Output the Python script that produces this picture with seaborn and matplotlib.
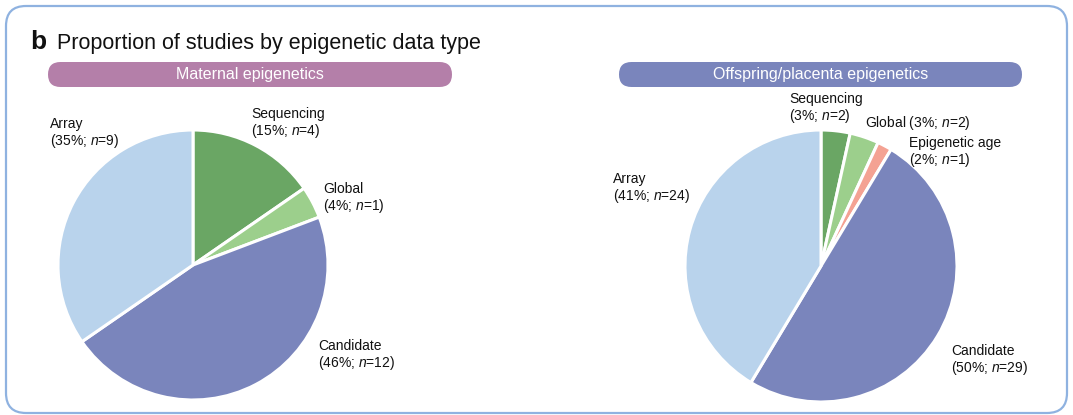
import matplotlib
matplotlib.use("Agg")
import matplotlib.pyplot as plt
from matplotlib.patches import FancyBboxPatch
import seaborn as sns

sns.set_theme(style="white")
plt.rcParams['font.family'] = ['Liberation Sans', 'DejaVu Sans']
plt.rcParams['mathtext.fontset'] = 'custom'
plt.rcParams['mathtext.rm'] = 'Liberation Sans'
plt.rcParams['mathtext.it'] = 'Liberation Sans:italic'

# ---- data ----
maternal_categories = ["Sequencing", "Global", "Candidate", "Array"]
maternal_counts = [4, 1, 12, 9]
offspring_categories = ["Sequencing", "Global", "Epigenetic age", "Candidate", "Array"]
offspring_counts = [2, 2, 1, 29, 24]
panel_titles = ["Maternal epigenetics", "Offspring/placenta epigenetics"]
main_title = "Proportion of studies by epigenetic data type"

palette = {"Sequencing": "#6aa664", "Global": "#9ccf8c", "Epigenetic age": "#f4a293",
           "Candidate": "#7a85bc", "Array": "#b9d3ec"}

W, H = 1073, 415
fig = plt.figure(figsize=(W / 100, H / 100), dpi=100)

def px(x, y):
    return x / W, 1 - y / H

# outer border (in inches coords)
border = FancyBboxPatch((0.06, 0.02), 10.61, 4.07,
                        boxstyle="round,pad=0,rounding_size=0.2",
                        transform=fig.dpi_scale_trans, facecolor="none",
                        edgecolor="#8fb2e0", linewidth=1.6)
fig.patches.append(border)

fig.text(*px(30, 49), "b", fontsize=19, fontweight="bold", va="baseline", ha="left", color="#111111")
fig.text(*px(57, 49), main_title, fontsize=15.5, va="baseline", ha="left", color="#111111")

# header pills
pill_specs = [(48, 452, "#b47fa9"), (619, 1022, "#7a85bc")]
for (x0, x1, col), title in zip(pill_specs, panel_titles):
    y0, y1 = 62, 87
    r = (y1 - y0) / 2 / 100
    p = FancyBboxPatch((x0 / 100, (H - y1) / 100), (x1 - x0) / 100, (y1 - y0) / 100,
                       boxstyle=f"round,pad=0,rounding_size={r}",
                       transform=fig.dpi_scale_trans, facecolor=col, edgecolor="none")
    fig.patches.append(p)
    fig.text(*px((x0 + x1) / 2, (y0 + y1) / 2 + 0.5), title, fontsize=11.5, color="white",
             ha="center", va="center")

def draw_pie(cx, cy, rad, cats, counts):
    ax = fig.add_axes([(cx - rad) / W, (H - cy - rad) / H, 2 * rad / W, 2 * rad / H])
    ax.pie(counts, colors=[palette[c] for c in cats], startangle=90, counterclock=False,
           wedgeprops=dict(edgecolor="white", linewidth=2.2))
    ax.set_xlim(-1, 1)
    ax.set_ylim(-1, 1)
    ax.set_aspect("equal")
    ax.axis("off")
    return ax

draw_pie(193, 265, 135, maternal_categories, maternal_counts)
draw_pie(821, 266, 136, offspring_categories, offspring_counts)

def pct_label(name, count, total, oneline=False):
    pct = round(100 * count / total)
    sep = " " if oneline else "\n"
    return f"{name}{sep}({pct}%; $n$={count})"

tot_m = sum(maternal_counts)
tot_o = sum(offspring_counts)
label_pos_m = {"Array": (50, 117), "Sequencing": (251, 107), "Global": (323, 182), "Candidate": (318, 339)}
label_pos_o = {"Sequencing": (789, 92), "Global": (865, 114), "Epigenetic age": (909, 136),
               "Array": (613, 172), "Candidate": (951, 344)}

for c, n in zip(maternal_categories, maternal_counts):
    fig.text(*px(*label_pos_m[c]), pct_label(c, n, tot_m), fontsize=10, va="top", ha="left",
             linespacing=1.1, color="#111111")
for c, n in zip(offspring_categories, offspring_counts):
    fig.text(*px(*label_pos_o[c]), pct_label(c, n, tot_o, oneline=(c == "Global")), fontsize=10,
             va="top", ha="left", linespacing=1.1, color="#111111")

fig.savefig("out.png", dpi=100)
